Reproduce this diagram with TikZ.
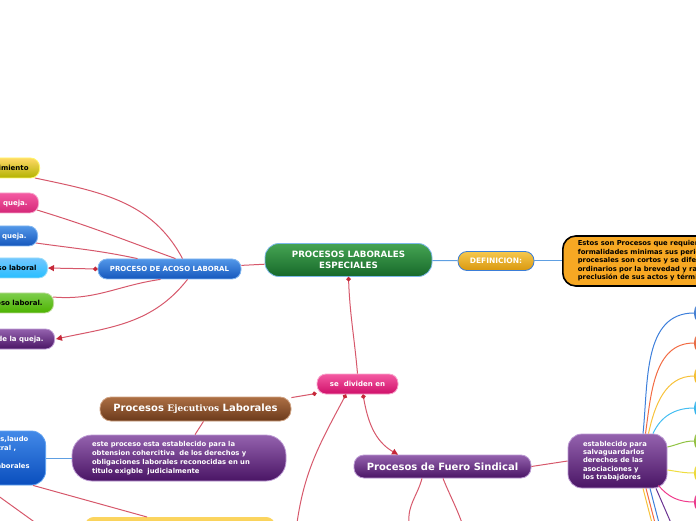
\documentclass[tikz,border=0pt]{standalone}
\usepackage{fontspec}
\setmainfont{DejaVu Sans}
\newfontfamily\ejfont{DejaVu Serif}
\usetikzlibrary{arrows.meta,positioning,calc}
\definecolor{rojolinea}{HTML}{D6586B}
\definecolor{puntorojo}{HTML}{C62839}
\definecolor{azullinea}{HTML}{5E9FE2}
\definecolor{verdeA}{HTML}{45A453}\definecolor{verdeB}{HTML}{17692A}\definecolor{verdeC}{HTML}{7DB8EA}
\definecolor{oroA}{HTML}{F6C84E}\definecolor{oroB}{HTML}{D9980E}\definecolor{oroC}{HTML}{3B7ED8}
\definecolor{azulA}{HTML}{5297E8}\definecolor{azulB}{HTML}{1557BD}\definecolor{azulC}{HTML}{82B6F0}
\definecolor{rosaA}{HTML}{F45AA2}\definecolor{rosaB}{HTML}{CF0F69}\definecolor{rosaC}{HTML}{F7A6CC}
\definecolor{cafeA}{HTML}{AD6F44}\definecolor{cafeB}{HTML}{6B3A1B}\definecolor{cafeC}{HTML}{CFA282}
\definecolor{moradoA}{HTML}{9462AE}\definecolor{moradoB}{HTML}{4A1565}\definecolor{moradoC}{HTML}{BC9AD3}
\definecolor{azulfA}{HTML}{4289E8}\definecolor{azulfB}{HTML}{0A4EBD}\definecolor{azulfC}{HTML}{62A2F0}
\definecolor{amarA}{HTML}{FBD560}\definecolor{amarB}{HTML}{F5BB22}
\definecolor{defnaranja}{HTML}{F7A823}
\definecolor{c1}{HTML}{2B6ECC}\definecolor{c2}{HTML}{E4582C}\definecolor{c3}{HTML}{F2B516}
\definecolor{c4}{HTML}{22ADE9}\definecolor{c5}{HTML}{86B82A}\definecolor{c6}{HTML}{E9D41F}
\definecolor{c7}{HTML}{E81F7D}
\definecolor{l1}{HTML}{3D7FDB}\definecolor{l2}{HTML}{F26B43}\definecolor{l3}{HTML}{F7C23A}
\definecolor{l4}{HTML}{44BEF2}\definecolor{l5}{HTML}{90C342}\definecolor{l6}{HTML}{EFDD3F}
\definecolor{l7}{HTML}{F03C8C}\definecolor{l8}{HTML}{6B3392}

\tikzset{
  topic/.style={rounded corners=9pt, line width=0.8pt, text=white, align=center,
    inner sep=0pt, font=\bfseries\fontsize{7}{8.5}\selectfont},
  verde/.style={top color=verdeA, bottom color=verdeB, draw=verdeC},
  oro/.style={top color=oroA, bottom color=oroB, draw=oroC},
  azul/.style={top color=azulA, bottom color=azulB, draw=azulC},
  rosa/.style={top color=rosaA, bottom color=rosaB, draw=rosaC},
  cafe/.style={top color=cafeA, bottom color=cafeB, draw=cafeC},
  morado/.style={top color=moradoA, bottom color=moradoB, draw=moradoC},
  azulf/.style={top color=azulfA, bottom color=azulfB, draw=azulfC},
  izq/.style={topic, anchor=east, minimum height=20pt, inner xsep=11pt},
  rama/.style={rojolinea, line width=1pt},
  ramaazul/.style={azullinea, line width=1pt},
  punto/.style={arrows={Circle[length=4.5pt,fill=puntorojo,color=puntorojo]-}},
  flecha/.style={arrows={-Triangle[length=6pt,width=6pt,fill=puntorojo,color=puntorojo]}},
  puntoflecha/.style={arrows={Circle[length=4.5pt,fill=puntorojo,color=puntorojo]-Triangle[length=6pt,width=6pt,fill=puntorojo,color=puntorojo]}},
  rnodo/.style={rounded corners=8pt, anchor=west, minimum width=30pt, minimum height=20pt}
}

\begin{document}
\begin{tikzpicture}[x=1pt,y=1pt]
  \useasboundingbox (0,0) rectangle (696,520);
  % nodo central y definicion
  \node[topic, verde, minimum width=167pt, minimum height=33pt, rounded corners=14pt,
    font=\bfseries\fontsize{8.7}{11.5}\selectfont] (central) at (348.5,260) {PROCESOS LABORALES\\ESPECIALES};
  \node[topic, oro, minimum width=76pt, minimum height=19pt, font=\bfseries\fontsize{7.5}{9}\selectfont]
    (defin) at (496,259) {DEFINICION:};
  \node[rounded corners=13pt, fill=defnaranja, draw=black, line width=1.6pt, anchor=west, align=left,
    inner xsep=15pt, minimum height=50pt, font=\bfseries\fontsize{6.8}{8.5}\selectfont]
    (defbox) at (562,259) {Estos son Procesos que requieren\\formalidades minimas sus periodos\\procesales son cortos y se diferencian de los\\ordinarios por la brevedad y rapidez en la\\preclusión de sus actos y términos};
  % acoso laboral
  \node[topic, azul, minimum width=143pt, minimum height=20pt] (acoso) at (169.5,251) {PROCESO DE ACOSO LABORAL};
  \node[izq, top color=yellow!50!orange!60!white, bottom color=yellow!70!black, draw=yellow!60!white, text=black] (acosoA) at (40,352) {Procedimiento};
  \node[izq, top color=rosaA, bottom color=rosaB!90!white, draw=rosaC] (acosoB) at (39,317) {Presentación de la queja.};
  \node[izq, azul] (acosoC) at (38,284) {Trámite de la queja.};
  \node[izq, top color=cyan!60!blue!55!white, bottom color=cyan!70!blue!85!white, draw=cyan!40!white, text=black] (acosoD) at (48,252) {Acoso laboral};
  \node[izq, top color=green!45!olive!70!white, bottom color=green!40!olive, draw=green!30!olive!40!white, text=black] (acosoE) at (54,217) {acoso laboral.};
  \node[izq, top color=moradoA, bottom color=moradoB, draw=moradoC] (acosoF) at (55,181) {Decisión de la queja.};
  % division de los procesos
  \node[topic, rosa, minimum width=81pt, minimum height=20pt] (divide) at (357.5,136) {se\ \ dividen en};
  \node[topic, cafe, minimum width=191pt, minimum height=24pt, rounded corners=11pt,
    font=\bfseries\fontsize{10}{12}\selectfont] (ejecut) at (195.5,111) {Procesos {\ejfont\fontsize{9}{12}\selectfont Ejecutivos} Laborales};
  \node[topic, morado, minimum height=46pt, rounded corners=20pt, align=left, text width=174pt, inner xsep=20pt,
    font=\bfseries\fontsize{6.8}{9}\selectfont] (ejecdesc) at (179,62)
    {este proceso esta establecido para la\\obtension cohercitiva\ \ de los derechos y\\obligaciones laborales reconocidas en un\\titulo exigble\ \ judicialmente};
  \node[topic, azulf, anchor=east, minimum height=54pt, rounded corners=14pt, align=left, inner xsep=16pt,
    font=\bfseries\fontsize{6.8}{9}\selectfont] (titulos) at (46,62)
    {sentencias,laudo\\fallo arbitral ,\\actas de\\normas laborales\\vigentes};
  \node[topic, top color=amarA, bottom color=amarB, draw=amarA, anchor=north, minimum width=190pt,
    minimum height=30pt] (tramite) at (180,3) {};
  \node[topic, morado, minimum width=177pt, minimum height=23pt, rounded corners=10pt,
    font=\bfseries\fontsize{10}{12}\selectfont] (fuero) at (442.5,53.5) {Procesos de Fuero Sindical};
  \node[topic, morado, minimum height=54pt, rounded corners=14pt, align=left, text width=69pt, inner xsep=15pt,
    font=\bfseries\fontsize{6.8}{8.3}\selectfont] (fuerodesc) at (617.5,59)
    {establecido para\\salvaguardarlos\\derechos de las\\asociaciones y\\los trabajdores};
  \foreach \n/\y in {1/207,2/177,3/144,4/112,5/79,6/47,7/18}{
    \node[rnodo, top color=c\n!75!white, bottom color=c\n] (r\n) at (694,\y) {};
  }
  % conectores
  \draw[rama] (central) -- (acoso);
  \draw[ramaazul] (central) -- (defin);
  \draw[ramaazul] (defin.east) -- (defbox.west);
  \draw[rama] ([xshift=13pt]acoso.north) to[out=118,in=-12] ([shift={(-5pt,-10pt)}]acosoA.east);
  \draw[rama] ([xshift=6pt]acoso.north) to[out=160,in=-17] ([shift={(-2pt,-7pt)}]acosoB.east);
  \draw[rama] ([xshift=-32pt]acoso.north) to[out=168,in=-8] ([shift={(-2pt,-7pt)}]acosoC.east);
  \draw[rama, puntoflecha] (acoso.west) -- (acosoD.east);
  \draw[rama] ([xshift=-9pt]acoso.south) to[out=-172,in=-5] ([shift={(-1pt,6pt)}]acosoE.east);
  \draw[rama, flecha] ([xshift=18pt]acoso.south) to[out=-128,in=12] ([xshift=1pt]acosoF.east);
  \draw[rama, punto] (central.south) to[out=-88,in=95] (divide.north);
  \draw[rama, punto] ([yshift=1pt]divide.south west) -- ([yshift=-1pt]ejecut.north east);
  \coordinate (bajoA) at (297,-3);
  \draw[rama, punto] ([xshift=-11.5pt]divide.south) to[out=-118,in=82] (bajoA);
  \draw[rama, puntoflecha] ([xshift=5.5pt]divide.south) to[out=-80,in=150] ([xshift=-44.5pt]fuero.north);
  \draw[rama] ([xshift=8pt]ejecut.south) -- ([xshift=16pt]ejecdesc.north);
  \draw[ramaazul] (titulos.east) -- (ejecdesc.west);
  \draw[rama] ([xshift=-13pt]titulos.south east) -- ([xshift=-33pt]tramite.north);
  \coordinate (fueraA) at (-10,30);
  \coordinate (fueraB) at (40,-6);
  \draw[rama] (fueraA) -- (fueraB);
  \coordinate (bajoB) at (409,-3);
  \coordinate (bajoC) at (462,-3);
  \draw[rama] ([xshift=-20.5pt]fuero.south) to[out=-105,in=95] (bajoB);
  \draw[rama] ([xshift=0.5pt]fuero.south) to[out=-68,in=110] (bajoC);
  \draw[rama] (fuero.east) -- (fuerodesc.west);
  % ramas de colores hacia la derecha
  \foreach \n/\dx/\o in {1/25.5/84,2/28/82,3/31/78,4/35.5/66}{
    \draw[l\n, line width=1pt] ([xshift=\dx pt]fuerodesc.north) to[out=\o,in=180] (r\n.west);
  }
  \draw[l5, line width=1pt] ([yshift=14pt]fuerodesc.east) to[out=12,in=180] (r5.west);
  \draw[l6, line width=1pt] ([yshift=-9pt]fuerodesc.east) to[out=-8,in=180] (r6.west);
  \draw[l7, line width=1pt] ([shift={(-9pt,3pt)}]fuerodesc.south east) to[out=-50,in=180] (r7.west);
  \foreach \n/\dx/\xb in {3/25.5/652,2/28.5/655,1/32.5/659,8/38.5/671}{
    \draw[l\n, line width=1pt] ([xshift=\dx pt]fuerodesc.south) -- (\xb,-3);
  }
\end{tikzpicture}
\end{document}
